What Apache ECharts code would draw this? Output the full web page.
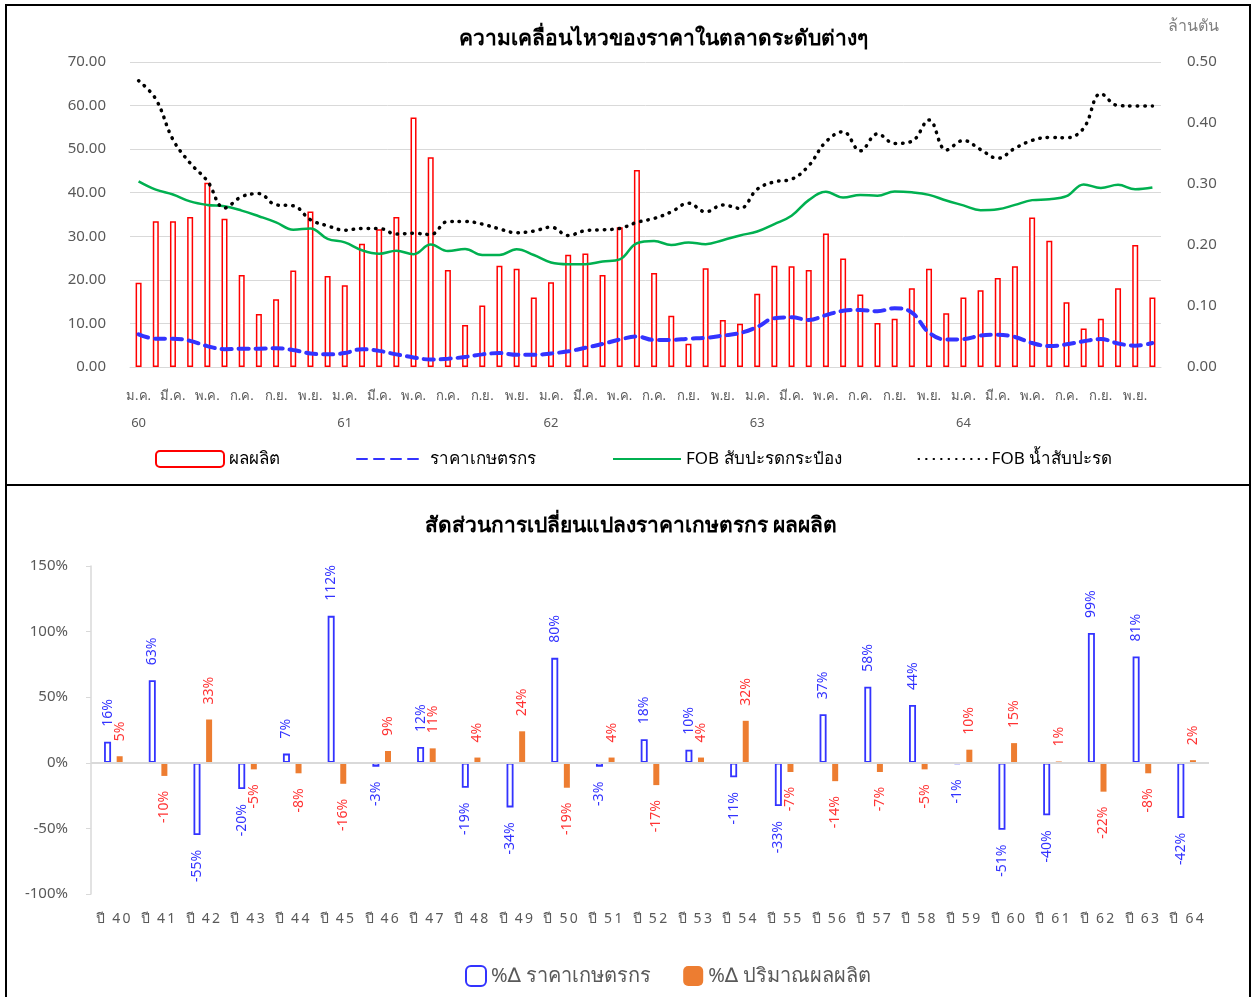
<!DOCTYPE html>
<html>
<head>
<meta charset="utf-8">
<script src="https://cdn.jsdelivr.net/npm/echarts@6/dist/echarts.min.js"></script>
<style>
  html, body { margin: 0; padding: 0; background: #fff; }
  body { width: 1253px; height: 997px; position: relative; overflow: hidden; }
  .frame { position: absolute; box-sizing: border-box; border: 2px solid #000; pointer-events: none; }
  .chart { position: absolute; left: 0; width: 1253px; }
</style>
</head>
<body>
<div id="chart_top" class="chart" style="top:0;height:485px"></div>
<div id="chart_bottom" class="chart" style="top:485px;height:512px"></div>
<div class="frame" style="left:5px;top:4px;width:1246px;height:482px"></div>
<div class="frame" style="left:5px;top:484px;width:1246px;height:520px"></div>
<script>
const FONT = '"Noto Sans", "DejaVu Sans", sans-serif'

// ---- กราฟบน: รายเดือน ม.ค. 60 - ธ.ค. 64 ----
const monthNames = ['ม.ค.', 'ก.พ.', 'มี.ค.', 'เม.ย.', 'พ.ค.', 'มิ.ย.', 'ก.ค.', 'ส.ค.', 'ก.ย.', 'ต.ค.', 'พ.ย.', 'ธ.ค.']
const yearNames = ['60', '61', '62', '63', '64']

// ผลผลิต (ล้านตัน)
const production = [
  0.138, 0.239, 0.239, 0.246, 0.302, 0.243, 0.151, 0.087, 0.111, 0.158, 0.255, 0.149,
  0.134, 0.202, 0.226, 0.246, 0.409, 0.344, 0.159, 0.069, 0.101, 0.166, 0.161, 0.114,
  0.139, 0.184, 0.186, 0.151, 0.229, 0.323, 0.154, 0.084, 0.038, 0.162, 0.077, 0.071,
  0.120, 0.166, 0.165, 0.159, 0.219, 0.178, 0.119, 0.072, 0.079, 0.129, 0.161, 0.088,
  0.114, 0.126, 0.146, 0.165, 0.245, 0.207, 0.106, 0.063, 0.079, 0.129, 0.200, 0.114
]
// ราคาเกษตรกร
const farmerPrice = [
  7.5, 6.5, 6.5, 6.0, 4.8, 4.1, 4.2, 4.2, 4.3, 3.9, 3.1, 2.9,
  3.2, 4.1, 3.7, 2.9, 2.2, 1.7, 1.9, 2.3, 2.9, 3.2, 2.8, 2.8,
  3.1, 3.6, 4.4, 5.3, 6.3, 7.0, 6.2, 6.2, 6.5, 6.7, 7.2, 7.8,
  9.2, 11.2, 11.4, 10.8, 11.9, 12.9, 13.1, 12.8, 13.5, 12.5, 7.9, 6.3,
  6.4, 7.2, 7.4, 6.9, 5.5, 4.8, 5.2, 5.9, 6.4, 5.4, 4.9, 5.5
]
// FOB สับปะรดกระป๋อง
const fobCanned = [
  42.6, 40.7, 39.6, 38.0, 37.2, 36.9, 35.9, 34.6, 33.2, 31.5, 31.8, 29.4,
  28.6, 26.8, 26.0, 26.7, 25.9, 28.1, 26.6, 27.1, 25.7, 25.7, 27.0, 25.7,
  24.0, 23.6, 23.6, 24.2, 24.7, 28.4, 28.9, 28.0, 28.6, 28.2, 29.1, 30.2,
  31.1, 32.8, 34.7, 38.3, 40.2, 38.9, 39.5, 39.3, 40.3, 40.1, 39.5, 38.2,
  37.1, 36.0, 36.2, 37.2, 38.3, 38.5, 39.2, 41.9, 41.1, 41.8, 40.8, 41.2
]
// FOB น้ำสับปะรด
const fobJuice = [
  65.7, 61.5, 52.2, 46.8, 42.7, 36.5, 39.1, 39.8, 37.2, 37.0, 33.8, 32.4,
  31.4, 31.8, 31.8, 30.5, 30.7, 30.4, 33.4, 33.4, 32.8, 31.7, 30.8, 31.2,
  32.1, 30.2, 31.3, 31.5, 31.8, 33.2, 34.1, 35.6, 37.6, 35.6, 37.2, 36.4,
  40.8, 42.5, 43.1, 46.2, 51.7, 54.0, 49.6, 53.5, 51.3, 51.8, 56.7, 49.8,
  52.0, 49.9, 47.9, 50.2, 52.0, 52.7, 52.6, 54.8, 62.7, 60.0, 59.9, 59.9
]

// ---- กราฟล่าง: รายปี ----
const yearCategories = ['ปี 40', 'ปี 41', 'ปี 42', 'ปี 43', 'ปี 44', 'ปี 45', 'ปี 46', 'ปี 47', 'ปี 48',
  'ปี 49', 'ปี 50', 'ปี 51', 'ปี 52', 'ปี 53', 'ปี 54', 'ปี 55', 'ปี 56', 'ปี 57', 'ปี 58', 'ปี 59',
  'ปี 60', 'ปี 61', 'ปี 62', 'ปี 63', 'ปี 64']
const pctFarmerPrice = [16, 63, -55, -20, 7, 112, -3, 12, -19, -34, 80, -3, 18, 10, -11, -33, 37, 58, 44, -1, -51, -40, 99, 81, -42]
const pctProduction = [5, -10, 33, -5, -8, -16, 9, 11, 4, 24, -19, 4, -17, 4, 32, -7, -14, -7, -5, 10, 15, 1, -22, -8, 2]

const categories = []
yearNames.forEach(y => {
  monthNames.forEach(m => categories.push(m + ' ' + y))
})

// legend ของเส้น: ไม่ต้องมีจุดกลางเส้น
const lineLegend = name => ({ name, itemStyle: { opacity: 0 } })

const topChart = echarts.init(document.getElementById('chart_top'))
topChart.setOption({
  textStyle: { fontFamily: FONT },
  title: {
    text: 'ความเคลื่อนไหวของราคาในตลาดระดับต่างๆ',
    left: 658,
    textAlign: 'center',
    top: 24,
    textStyle: { fontFamily: FONT, fontSize: 21, fontWeight: 'bold', color: '#000' }
  },
  grid: { left: 130, top: 62, width: 1031, height: 305 },
  legend: {
    left: 150,
    top: 445,
    itemWidth: 68,
    itemHeight: 16,
    itemGap: 76,
    textStyle: { fontFamily: FONT, fontSize: 17, color: '#000' },
    data: ['ผลผลิต', lineLegend('ราคาเกษตรกร'), lineLegend('FOB สับปะรดกระป๋อง'), lineLegend('FOB น้ำสับปะรด')]
  },
  graphic: [{
    type: 'text',
    left: 1168,
    top: 18,
    style: { text: 'ล้านตัน', fontFamily: FONT, fontSize: 16, fill: '#808080' }
  }],
  xAxis: {
    type: 'category',
    data: categories,
    axisLine: { lineStyle: { color: '#d9d9d9' } },
    axisTick: { show: false },
    axisLabel: {
      interval: 1,
      color: '#595959',
      fontSize: 13,
      lineHeight: 27,
      margin: 16,
      formatter: v => {
        const [m, y] = v.split(' ')
        return m === monthNames[0] ? m + '\n' + y : m
      }
    }
  },
  yAxis: [
    {
      type: 'value',
      min: 0,
      max: 70,
      interval: 10,
      axisLine: { show: false },
      axisLabel: { color: '#595959', fontSize: 15, margin: 24, formatter: v => v.toFixed(2) },
      splitLine: { lineStyle: { color: '#d9d9d9' } }
    },
    {
      type: 'value',
      position: 'right',
      min: 0,
      max: 0.5,
      interval: 0.1,
      axisLine: { show: false },
      axisLabel: { color: '#595959', fontSize: 15, margin: 26, formatter: v => v.toFixed(2) },
      splitLine: { show: false }
    }
  ],
  series: [
    {
      name: 'ผลผลิต',
      type: 'bar',
      yAxisIndex: 1,
      barWidth: 6,
      data: production,
      itemStyle: { color: '#fff', borderColor: '#ff0000', borderWidth: 1.5 }
    },
    {
      name: 'ราคาเกษตรกร',
      type: 'line',
      data: farmerPrice,
      smooth: 0.4,
      symbol: 'none',
      lineStyle: { color: '#3333ff', width: 4, type: [10, 7], cap: 'round' },
      itemStyle: { color: '#3333ff' }
    },
    {
      name: 'FOB สับปะรดกระป๋อง',
      type: 'line',
      data: fobCanned,
      smooth: 0.4,
      symbol: 'none',
      lineStyle: { color: '#00b050', width: 2.5 },
      itemStyle: { color: '#00b050' }
    },
    {
      name: 'FOB น้ำสับปะรด',
      type: 'line',
      data: fobJuice,
      smooth: 0.4,
      symbol: 'none',
      lineStyle: { color: '#000', width: 3.5, type: [0.5, 7], cap: 'round' },
      itemStyle: { color: '#000' }
    }
  ]
})

// ป้ายค่าแนวตั้ง: บวกอยู่เหนือแท่ง ลบอยู่ใต้แท่ง
function toItems(vals) {
  return vals.map(v => ({
    value: v,
    label: { position: v >= 0 ? 'top' : 'bottom', align: v >= 0 ? 'left' : 'right' }
  }))
}

const bottomChart = echarts.init(document.getElementById('chart_bottom'))
bottomChart.setOption({
  textStyle: { fontFamily: FONT },
  title: {
    text: 'สัดส่วนการเปลี่ยนแปลงราคาเกษตรกร ผลผลิต',
    left: 626,
    textAlign: 'center',
    top: 26,
    textStyle: { fontFamily: FONT, fontSize: 21, fontWeight: 'bold', color: '#000' }
  },
  grid: { left: 91, top: 81, width: 1118, height: 328 },
  legend: {
    left: 460,
    top: 475,
    itemWidth: 20,
    itemHeight: 20,
    itemGap: 32,
    textStyle: { fontFamily: FONT, fontSize: 20, color: '#595959' },
    data: ['%∆ ราคาเกษตรกร', '%∆ ปริมาณผลผลิต']
  },
  xAxis: {
    type: 'category',
    data: yearCategories,
    axisLine: { show: false },
    axisTick: { show: false },
    axisLabel: {
      color: '#595959',
      fontSize: 14,
      margin: 18,
      formatter: v => {
        const [p, n] = v.split(' ')
        return p + '\u2002' + n.split('').join('\u2009')
      }
    }
  },
  yAxis: {
    type: 'value',
    min: -100,
    max: 150,
    interval: 50,
    axisLine: { show: true, lineStyle: { color: '#d9d9d9', width: 1.5 } },
    axisTick: { show: true, length: 5, lineStyle: { color: '#d9d9d9' } },
    axisLabel: { color: '#595959', fontSize: 15, margin: 23, formatter: '{value}%' },
    splitLine: { show: false }
  },
  series: [
    {
      name: '%∆ ราคาเกษตรกร',
      type: 'bar',
      barWidth: 7,
      barGap: '80%',
      data: toItems(pctFarmerPrice),
      itemStyle: { color: '#fff', borderColor: '#3333ff', borderWidth: 1.8 },
      label: {
        show: true,
        rotate: 90,
        verticalAlign: 'middle',
        distance: 15,
        fontSize: 14,
        color: '#3333ff',
        formatter: '{c}%'
      },
      markLine: {
        silent: true,
        symbol: 'none',
        label: { show: false },
        lineStyle: { color: '#d9d9d9', width: 2, type: 'solid' },
        data: [{ yAxis: 0 }]
      }
    },
    {
      name: '%∆ ปริมาณผลผลิต',
      type: 'bar',
      barWidth: 6,
      data: toItems(pctProduction),
      itemStyle: { color: '#ed7d31' },
      label: {
        show: true,
        rotate: 90,
        verticalAlign: 'middle',
        distance: 15,
        fontSize: 14,
        color: '#ff3333',
        formatter: '{c}%'
      }
    }
  ]
})
</script>
</body>
</html>
